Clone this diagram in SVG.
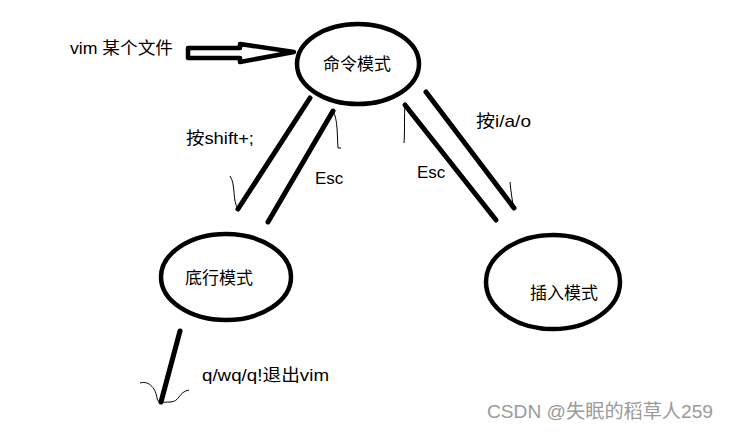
<svg xmlns="http://www.w3.org/2000/svg" width="729" height="432" viewBox="0 0 729 432">
<style>
.node{fill:none;stroke:#000;stroke-width:4.5}
.ln{fill:none;stroke:#000;stroke-width:5;stroke-linecap:round}
.sq{fill:none;stroke:#000;stroke-width:1}
text{font-family:"Liberation Sans","Noto Sans CJK SC",sans-serif;font-size:17px;fill:#000}
.wm{fill:#9a9a9a;font-size:19px}
</style>
<rect width="729" height="432" fill="#fff"/>
<g id="cmd">
<ellipse class="node" cx="358" cy="64" rx="61" ry="40"/>
<text x="323" y="70">命令模式</text>
</g>
<g id="bottom">
<ellipse class="node" cx="226" cy="277" rx="65" ry="43"/>
<text x="185" y="284">底行模式</text>
</g>
<g id="insert">
<ellipse class="node" cx="553" cy="282" rx="67" ry="47"/>
<text x="530" y="299">插入模式</text>
</g>
<g id="connectors">
<path d="M188 48 H240 V44 L294 52 L240 62 V58 H188 Z" fill="none" stroke="#000" stroke-width="4.5" stroke-linejoin="round"/>
<line class="ln" x1="310" y1="98" x2="238" y2="209"/>
<path class="sq" d="M230 176 C236 185 232 200 238 209"/>
<line class="ln" x1="333" y1="111" x2="268" y2="222"/>
<path class="sq" d="M333 111 C338 120 337 135 338 148 H341"/>
<line class="ln" x1="405" y1="105" x2="496" y2="220"/>
<path class="sq" d="M405 105 C404 115 405 130 404 143"/>
<line class="ln" x1="426" y1="92" x2="514" y2="208"/>
<path class="sq" d="M510 182 C511 192 512 200 514 209"/>
<line class="ln" x1="180" y1="331" x2="161" y2="402"/>
<path class="sq" d="M140 383 C150 380 156 390 157 398 C158 404 163 402 170 402 C180 402 178 392 189 390"/>
</g>
<g id="labels">
<text x="70" y="54" textLength="103" lengthAdjust="spacingAndGlyphs">vim 某个文件</text>
<text x="186" y="144" textLength="68" lengthAdjust="spacingAndGlyphs">按shift+;</text>
<text x="315" y="184">Esc</text>
<text x="476" y="127" textLength="55" lengthAdjust="spacingAndGlyphs">按i/a/o</text>
<text x="417" y="178">Esc</text>
<text x="202" y="381" textLength="127" lengthAdjust="spacingAndGlyphs">q/wq/q!退出vim</text>
<text class="wm" x="487" y="418" textLength="226" lengthAdjust="spacingAndGlyphs">CSDN @失眠的稻草人259</text>
</g>
</svg>
